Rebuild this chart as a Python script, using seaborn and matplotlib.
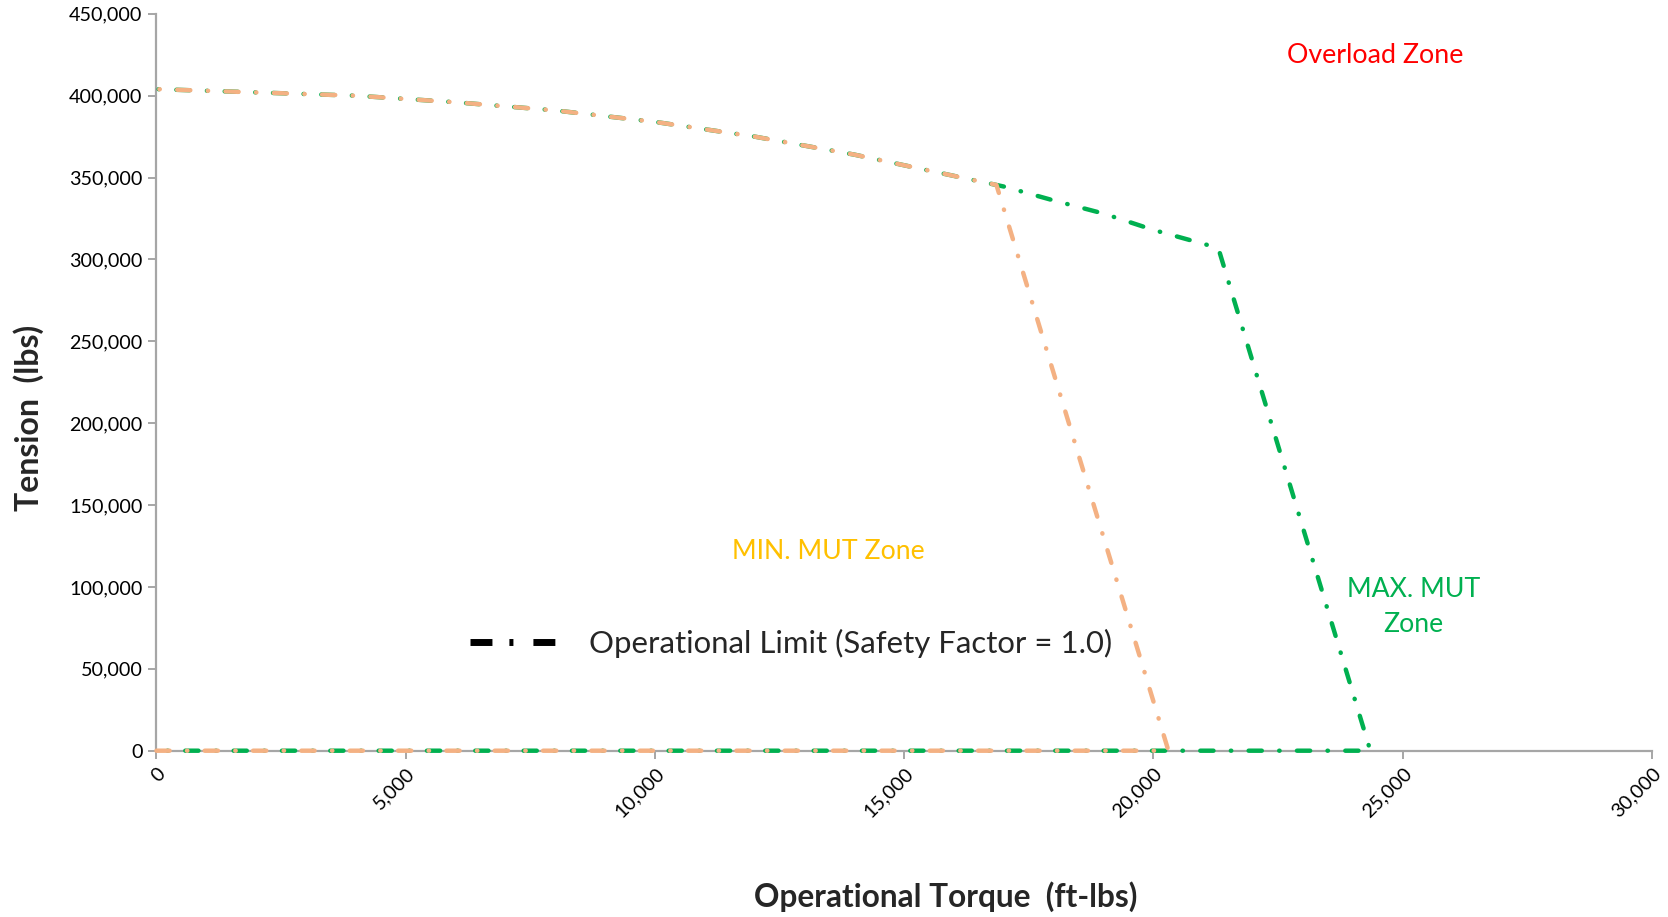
import numpy as np
import pandas as pd
import matplotlib
matplotlib.use("Agg")
import matplotlib.pyplot as plt
from matplotlib.lines import Line2D
from matplotlib.ticker import FuncFormatter
import seaborn as sns

# ---- data (path: along the zero line, up the steep side, back along the curve) ----
torque_max = [0, 24350, 21300, 20000, 19000, 18000, 17000, 16000, 14000, 12000,
              10000, 8000, 6000, 4000, 2000, 0]
tension_max = [0, 0, 307000, 318000, 328000, 336000, 344500, 351000, 364000, 375000,
               384000, 391000, 396000, 400000, 402000, 404000]

torque_min = [0, 20300, 16850, 16000, 14000, 12000, 10000, 8000, 6000, 4000,
              2000, 0]
tension_min = [0, 0, 345500, 351000, 364000, 375000, 384000, 391000, 396000, 400000,
               402000, 404000]

series_names = ["MAX. MUT", "MIN. MUT"]
series_colors = ["#00B050", "#F4B183"]

x_ticks = [0, 5000, 10000, 15000, 20000, 25000, 30000]
y_ticks = [0, 50000, 100000, 150000, 200000, 250000, 300000, 350000, 400000, 450000]

df = pd.concat([
    pd.DataFrame({"torque": torque_max, "tension": tension_max,
                  "series": series_names[0]}),
    pd.DataFrame({"torque": torque_min, "tension": tension_min,
                  "series": series_names[1]}),
], ignore_index=True)

sns.set_style("white")
plt.rcParams["font.family"] = ["Lato", "DejaVu Sans"]
plt.rcParams["lines.scale_dashes"] = False

W, H = 1668, 917
fig = plt.figure(figsize=(W / 100, H / 100), dpi=100)
ax_l, ax_r, ax_t, ax_b = 156.4, 1652.0, 13.8, 750.7
ax = fig.add_axes([ax_l / W, (H - ax_b) / H, (ax_r - ax_l) / W, (ax_b - ax_t) / H])

sns.lineplot(data=df, x="torque", y="tension", hue="series",
             hue_order=series_names, palette=dict(zip(series_names, series_colors)),
             estimator=None, sort=False, units="series", legend=False, ax=ax,
             linewidth=3.2, linestyle=(0, (9.5, 12.5, 0.3, 12.5)),
             dash_capstyle="round", solid_capstyle="round", clip_on=False, zorder=3)

# shift the dash phase of the green series so both colours show where they overlap
offsets = {series_names[0]: 14, series_names[1]: 0}
for line, name in zip(ax.get_lines(), series_names):
    line.set_linestyle((offsets[name], (9.5, 12.5, 0.3, 12.5)))

ax.set_xlim(0, 30000)
ax.set_ylim(0, 450000)
ax.set_xticks(x_ticks)
ax.set_yticks(y_ticks)
fmt = FuncFormatter(lambda v, p: f"{v:,.0f}")
ax.xaxis.set_major_formatter(fmt)
ax.yaxis.set_major_formatter(fmt)

for s in ["top", "right"]:
    ax.spines[s].set_visible(False)
for s in ["left", "bottom"]:
    ax.spines[s].set_color("#A6A6A6")
    ax.spines[s].set_linewidth(1.6)

ax.tick_params(axis="both", which="major", direction="out", length=6, width=1.4,
               color="#A6A6A6", labelsize=14.2, labelcolor="#000000", pad=4)
ax.tick_params(axis="both", left=True, bottom=True)
for lab in ax.get_xticklabels():
    lab.set_rotation(45)
    lab.set_ha("right")
    lab.set_va("top")
    lab.set_rotation_mode("anchor")

ax.set_xlabel("Operational Torque  (ft-lbs)", fontsize=22.8, fontweight="bold")
ax.set_ylabel("Tension  (lbs)", fontsize=23, fontweight="bold")
ax.xaxis.label.set_va("center")
ax.yaxis.label.set_va("center")
ax.xaxis.set_label_coords(0.528, -0.1985)
ax.yaxis.set_label_coords(-0.0852, 0.4515)

ax.text(24450, 424700, "Overload Zone", color="#FF0000", fontsize=19.3,
        ha="center", va="center")
ax.text(13485, 121900, "MIN. MUT Zone", color="#FFC000", fontsize=19.2,
        ha="center", va="center")
ax.text(25222, 88000, "MAX. MUT\nZone", color="#00B050", fontsize=19.2,
        ha="center", va="center", linespacing=1.5)

handle = Line2D([], [], color="black", linewidth=5,
                linestyle=(0, (15.8, 12.2, 2.9, 14.4)), dash_capstyle="butt")
ax.legend([handle], ["Operational Limit (Safety Factor = 1.0)"], loc="center left",
          bbox_to_anchor=(0.210, 0.1453), frameon=False, fontsize=22.4,
          handlelength=2.77, handletextpad=1.05, borderpad=0, borderaxespad=0)

fig.savefig("out.png", dpi=100, facecolor="white")
